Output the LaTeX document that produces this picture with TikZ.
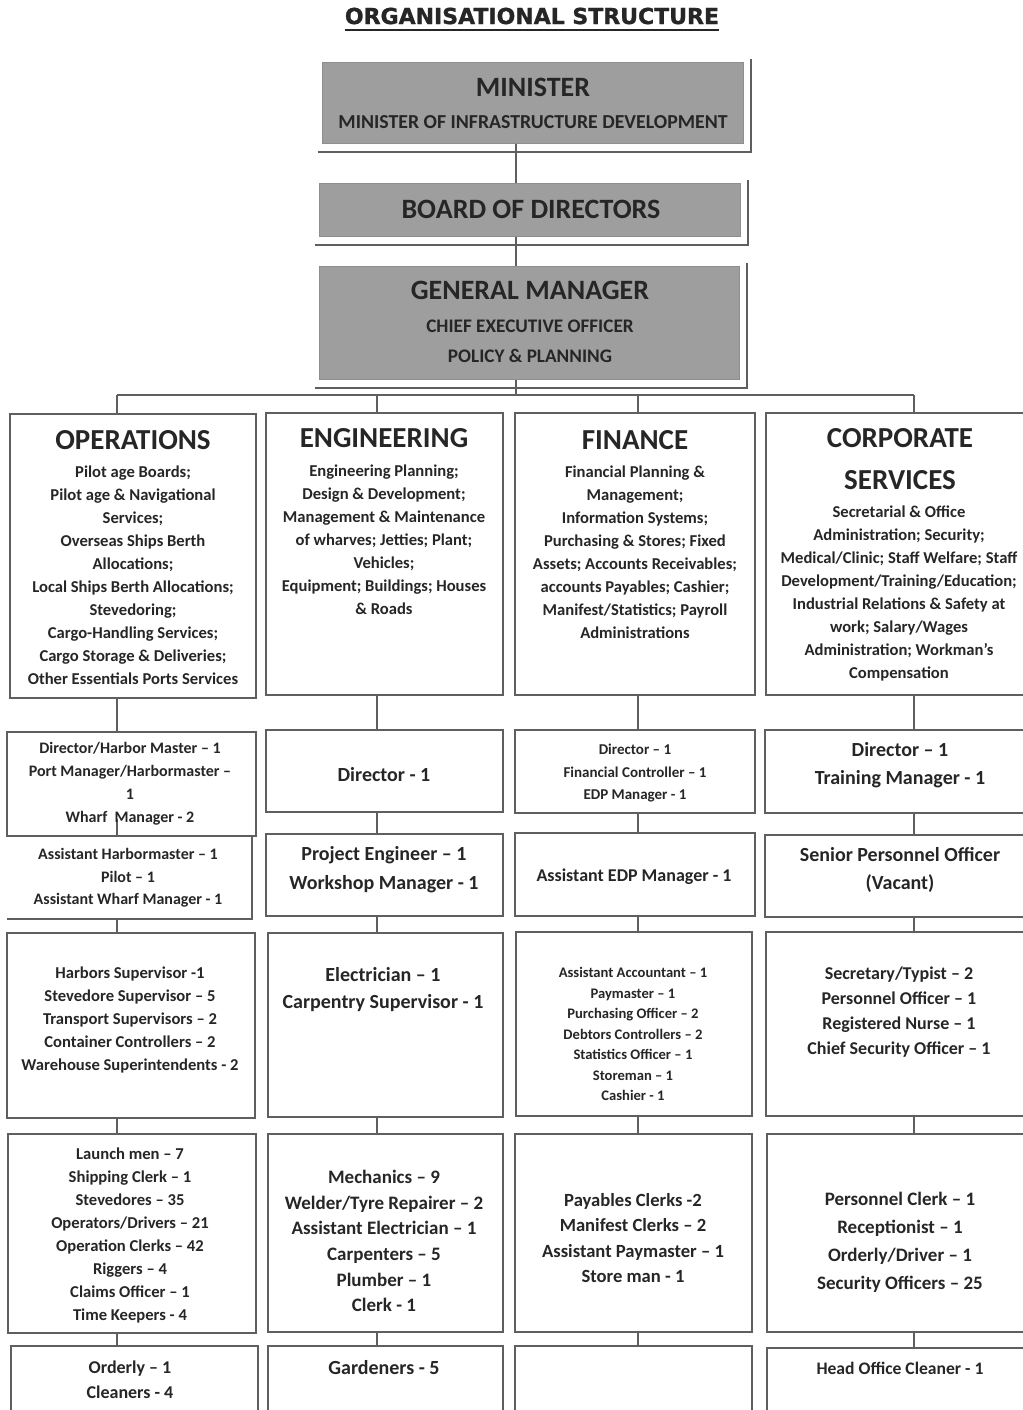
\documentclass[tikz,border=0pt]{standalone}
\usepackage{fontspec}
\setmainfont{Carlito}
\newfontfamily\titlefont{DejaVu Sans}[BoldFeatures={FakeBold=1.2}]
\usetikzlibrary{fit,calc}

\definecolor{boxgray}{RGB}{158,158,158}
\definecolor{inkgray}{RGB}{38,38,38}
\definecolor{linegray}{RGB}{95,95,95}

\newcommand{\txtsize}[2]{\fontsize{#1}{#2}\selectfont\bfseries}

\tikzset{
  unitbox/.style={draw=linegray, line width=1pt, inner sep=0pt},
  topbox/.style={fill=boxgray, draw=boxgray!90!black, line width=0.5pt, inner sep=0pt},
  edgeline/.style={draw=linegray, line width=1pt},
  link/.style={draw=linegray, line width=0.8pt},
  txt/.style={align=center, inner sep=0pt, text=inkgray},
}

\begin{document}
\begin{tikzpicture}[x=0.5pt,y=-0.5pt]
  \useasboundingbox (0,0) rectangle (1023,1410);
  \clip (0,0) rectangle (1023,1410);
  \fill[white] (0,0) rectangle (1023,1410);

  % title
  \node[txt, font=\titlefont\bfseries\fontsize{11}{13}\selectfont] (title) at (532,16) {ORGANISATIONAL STRUCTURE};
  \draw[line width=1.1pt, inkgray] ($(title.south west)+(0,5)$) -- ($(title.south east)+(0,5)$);

  % minister, board, general manager
  \node[topbox, fit={(322,62) (743,143)}] (min) {};
  \node[topbox, fit={(319,183) (740,236)}] (board) {};
  \node[topbox, fit={(319,266) (739,379)}] (gm) {};
  \foreach \b in {min,board,gm}
    \draw[edgeline] ($(\b.south west)+(-4,8.5)$) -| ($(\b.north east)+(7.5,-2.5)$);

  \node[txt, font=\txtsize{14}{17}] (minA) at (533,87) {MINISTER};
  \node[txt, font=\txtsize{9.9}{12}] (minB) at (533,122) {MINISTER OF INFRASTRUCTURE DEVELOPMENT};
  \node[txt, font=\txtsize{14}{17}] (boardA) at (531,209) {BOARD OF DIRECTORS};
  \node[txt, font=\txtsize{14}{17}] (gmA) at (530,290) {GENERAL MANAGER};
  \node[txt, font=\txtsize{9.6}{15}] (gmB) at (530,341) {CHIEF EXECUTIVE OFFICER\\POLICY \& PLANNING};

  \coordinate (spine) at (516,0);
  \coordinate (bus) at (516,395);
  \draw[link] (spine |- min.south) -- (spine |- board.north);
  \draw[link] (spine |- board.south) -- (spine |- gm.north);
  \draw[link] (spine |- gm.south) -- (bus);

  \coordinate (xo) at (117,0);
  \coordinate (xe) at (377,0);
  \coordinate (xf) at (638,0);
  \coordinate (xc) at (914,0);
  \draw[link] (xo |- bus) -- (xc |- bus);

  % operations
  \node[unitbox, fit={(10,414) (256,698)}] (ops1) {};
  \node[unitbox, fit={(7,732) (256,836)}] (ops2) {};
  \node[inner sep=0pt, fit={(7,836) (252,919)}] (ops3) {};
  \draw[edgeline] (ops3.north east) |- (ops3.south west);
  \node[unitbox, fit={(7,933) (255,1118)}] (ops4) {};
  \node[unitbox, fit={(8,1134) (256,1333)}] (ops5) {};
  \node[unitbox, fit={(11,1346) (258,1430)}] (ops6) {};

  % engineering
  \node[unitbox, fit={(266,413) (503,695)}] (eng1) {};
  \node[unitbox, fit={(266,730) (503,812)}] (eng2) {};
  \node[unitbox, fit={(266,834) (503,916)}] (eng3) {};
  \node[unitbox, fit={(268,933) (503,1117)}] (eng4) {};
  \node[unitbox, fit={(268,1134) (503,1332)}] (eng5) {};
  \node[unitbox, fit={(268,1346) (503,1430)}] (eng6) {};

  % finance
  \node[unitbox, fit={(515,413) (755,695)}] (fin1) {};
  \node[unitbox, fit={(515,730) (755,813)}] (fin2) {};
  \node[unitbox, fit={(515,833) (755,916)}] (fin3) {};
  \node[unitbox, fit={(516,932) (752,1116)}] (fin4) {};
  \node[unitbox, fit={(515,1134) (752,1332)}] (fin5) {};
  \node[unitbox, fit={(515,1346) (752,1430)}] (fin6) {};

  % corporate services
  \node[unitbox, fit={(766,413) (1030,695)}] (cor1) {};
  \node[unitbox, fit={(765,730) (1030,813)}] (cor2) {};
  \node[unitbox, fit={(765,835) (1030,917)}] (cor3) {};
  \node[unitbox, fit={(766,932) (1030,1116)}] (cor4) {};
  \node[unitbox, fit={(767,1134) (1030,1332)}] (cor5) {};
  \node[unitbox, fit={(767,1348) (1030,1430)}] (cor6) {};

  \foreach \c/\x in {ops/xo,eng/xe,fin/xf,cor/xc} {
    \draw[link] (\x |- bus) -- (\x |- \c1.north);
    \foreach \a/\b in {1/2,2/3,3/4,4/5,5/6}
      \draw[link] (\x |- \c\a.south) -- (\x |- \c\b.north);
  }
  \draw[link] (xo |- ops2.south) -- ++(0,-18);

  % headings
  \node[txt, font=\txtsize{14.5}{21}] (ops1h) at (133,440) {OPERATIONS};
  \node[txt, font=\txtsize{14.5}{21}] (eng1h) at (384,438) {ENGINEERING};
  \node[txt, font=\txtsize{14.5}{21}] (fin1h) at (635,440) {FINANCE};
  \node[txt, font=\txtsize{14.5}{21}] (cor1h) at (900,459) {CORPORATE\\SERVICES};

  \node[txt, font=\txtsize{8.3}{11.5}] (ops1t) at (133,575) {Pilot age Boards;\\Pilot age \& Navigational\\Services;\\Overseas Ships Berth\\Allocations;\\Local Ships Berth Allocations;\\Stevedoring;\\Cargo-Handling Services;\\Cargo Storage \& Deliveries;\\Other Essentials Ports Services};
  \node[txt, font=\txtsize{8.3}{11.5}] (eng1t) at (384,540) {Engineering Planning;\\Design \& Development;\\Management \& Maintenance\\of wharves; Jetties; Plant;\\Vehicles;\\Equipment; Buildings; Houses\\\& Roads};
  \node[txt, font=\txtsize{8.3}{11.5}] (fin1t) at (635,552) {Financial Planning \&\\Management;\\Information Systems;\\Purchasing \& Stores; Fixed\\Assets; Accounts Receivables;\\accounts Payables; Cashier;\\Manifest/Statistics; Payroll\\Administrations};
  \node[txt, font=\txtsize{8.3}{11.5}] (cor1t) at (899,593) {Secretarial \& Office\\Administration; Security;\\Medical/Clinic; Staff Welfare; Staff\\Development/Training/Education;\\Industrial Relations \& Safety at\\work; Salary/Wages\\Administration; Workman's\\Compensation};

  % second and third rows
  \node[txt, font=\txtsize{8}{11.5}] (ops2t) at (130,784) {Director/Harbor Master -- 1\\Port Manager/Harbormaster --\\1\\Wharf\ \ Manager - 2};
  \node[txt, font=\txtsize{8}{11.2}] (ops3t) at (128,878) {Assistant Harbormaster -- 1\\Pilot -- 1\\Assistant Wharf Manager - 1};
  \node[txt, font=\txtsize{10}{14}] (eng2t) at (384,775) {Director - 1};
  \node[txt, font=\txtsize{10}{14.5}] (eng3t) at (384,870) {Project Engineer -- 1\\Workshop Manager - 1};
  \node[txt, font=\txtsize{7.5}{11.25}] (fin2t) at (635,773) {Director -- 1\\Financial Controller -- 1\\EDP Manager - 1};
  \node[txt, font=\txtsize{9}{12}] (fin3t) at (634,877) {Assistant EDP Manager - 1};
  \node[txt, font=\txtsize{10}{14}] (cor2t) at (900,765) {Director -- 1\\Training Manager - 1};
  \node[txt, font=\txtsize{10}{14}] (cor3t) at (900,870) {Senior Personnel Officer\\(Vacant)};

  % fourth row
  \node[txt, font=\txtsize{8.3}{11.5}] (ops4t) at (130,1020) {Harbors Supervisor -1\\Stevedore Supervisor -- 5\\Transport Supervisors -- 2\\Container Controllers -- 2\\Warehouse Superintendents - 2};
  \node[txt, font=\txtsize{10}{13.5}] (eng4t) at (383,990) {Electrician -- 1\\Carpentry Supervisor - 1};
  \node[txt, font=\txtsize{7.3}{10.25}] (fin4t) at (633,1034) {Assistant Accountant -- 1\\Paymaster -- 1\\Purchasing Officer -- 2\\Debtors Controllers -- 2\\Statistics Officer -- 1\\Storeman -- 1\\Cashier - 1};
  \node[txt, font=\txtsize{9}{12.5}] (cor4t) at (899,1012) {Secretary/Typist -- 2\\Personnel Officer -- 1\\Registered Nurse -- 1\\Chief Security Officer -- 1};

  % fifth row
  \node[txt, font=\txtsize{8.3}{11.5}] (ops5t) at (130,1235) {Launch men -- 7\\Shipping Clerk -- 1\\Stevedores -- 35\\Operators/Drivers -- 21\\Operation Clerks -- 42\\Riggers -- 4\\Claims Officer -- 1\\Time Keepers - 4};
  \node[txt, font=\txtsize{9.5}{12.8}] (eng5t) at (384,1241) {Mechanics -- 9\\Welder/Tyre Repairer -- 2\\Assistant Electrician -- 1\\Carpenters -- 5\\Plumber -- 1\\Clerk - 1};
  \node[txt, font=\txtsize{9.3}{12.8}] (fin5t) at (633,1238) {Payables Clerks -2\\Manifest Clerks -- 2\\Assistant Paymaster -- 1\\Store man - 1};
  \node[txt, font=\txtsize{9.5}{14}] (cor5t) at (900,1242) {Personnel Clerk -- 1\\Receptionist -- 1\\Orderly/Driver -- 1\\Security Officers -- 25};

  % last row
  \node[txt, font=\txtsize{9}{12.5}] (ops6t) at (130,1380) {Orderly -- 1\\Cleaners - 4};
  \node[txt, font=\txtsize{10}{14}] (eng6t) at (384,1368) {Gardeners - 5};
  \node[txt, font=\txtsize{8.8}{12}] (cor6t) at (900,1368) {Head Office Cleaner - 1};
\end{tikzpicture}
\end{document}
